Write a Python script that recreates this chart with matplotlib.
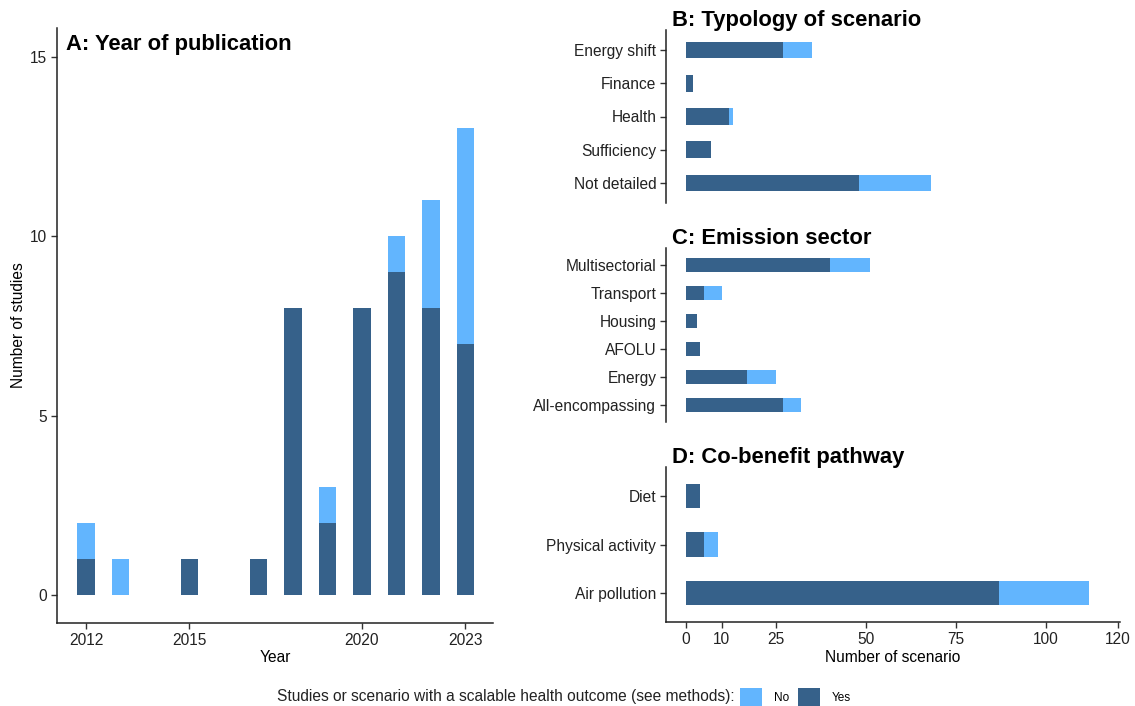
import matplotlib
matplotlib.use("Agg")
import matplotlib.pyplot as plt
from matplotlib.patches import Patch
import numpy as np

plt.rcParams['font.family'] = ['Liberation Sans', 'DejaVu Sans']

# ---- Data ----
years = [2012, 2013, 2015, 2017, 2018, 2019, 2020, 2021, 2022, 2023]
years_yes = [1, 0, 1, 1, 8, 2, 8, 9, 8, 7]
years_no = [1, 1, 0, 0, 0, 1, 0, 1, 3, 6]
year_ticks = [2012, 2015, 2020, 2023]

typology_cats = ["Energy shift", "Finance", "Health", "Sufficiency", "Not detailed"]
typology_yes = [27, 2, 12, 7, 48]
typology_no = [8, 0, 1, 0, 20]

sector_cats = ["Multisectorial", "Transport", "Housing", "AFOLU", "Energy", "All-encompassing"]
sector_yes = [40, 5, 3, 4, 17, 27]
sector_no = [11, 5, 0, 0, 8, 5]

pathway_cats = ["Diet", "Physical activity", "Air pollution"]
pathway_yes = [4, 5, 87]
pathway_no = [0, 4, 25]

scen_ticks = [0, 10, 25, 50, 75, 100, 120]

COL_NO = "#62B5FE"
COL_YES = "#36618A"

TICK_FS = 11.2
LAB_FS = 11.2
TITLE_FS = 15.8

W, H = 1135, 706
fig = plt.figure(figsize=(W / 100, H / 100), dpi=100)

def fbox(l, t, r, b):
    return [l / W, 1 - b / H, (r - l) / W, (b - t) / H]

def style(ax):
    for s in ["top", "right"]:
        ax.spines[s].set_visible(False)
    for s in ["left", "bottom"]:
        ax.spines[s].set_linewidth(1.1)
        ax.spines[s].set_color("#222222")
    ax.tick_params(axis="both", colors="#333333", labelcolor="#222222",
                   length=4, width=1, labelsize=TICK_FS, pad=3)

# ---- Panel A ----
axA = fig.add_axes(fbox(57, 28, 493, 623))
style(axA)
axA.bar(years, years_yes, width=0.5, color=COL_YES, edgecolor="none", zorder=3)
axA.bar(years, years_no, width=0.5, bottom=years_yes, color=COL_NO, edgecolor="none", zorder=3)
axA.set_xlim(2011.16, 2023.8)
axA.set_ylim(-0.78, 15.8)
axA.set_xticks(year_ticks)
axA.set_yticks([0, 5, 10, 15])
axA.set_xlabel("Year", fontsize=LAB_FS, labelpad=2)
axA.set_ylabel("Number of studies", fontsize=LAB_FS, labelpad=3)
axA.text(0.021, 0.99, "A: Year of publication", transform=axA.transAxes,
         fontsize=TITLE_FS, fontweight="bold", va="top", ha="left")

# ---- Panels B, C, D ----
def hpanel(box, cats, yes, no, title, show_x):
    ax = fig.add_axes(fbox(*box))
    style(ax)
    y = np.arange(len(cats))
    ax.barh(y, yes, height=0.5, color=COL_YES, edgecolor="none", zorder=3)
    ax.barh(y, no, height=0.5, left=yes, color=COL_NO, edgecolor="none", zorder=3)
    ax.set_yticks(y)
    ax.set_yticklabels(cats)
    ax.set_ylim(len(cats) - 0.4, -0.6)
    ax.set_xlim(-5.5, 120.5)
    if show_x:
        ax.set_xticks(scen_ticks)
        ax.set_xlabel("Number of scenario", fontsize=LAB_FS, labelpad=2)
    else:
        ax.spines["bottom"].set_visible(False)
        ax.set_xticks([])
    ax.text(0.013, 0.995, title, transform=ax.transAxes, fontsize=TITLE_FS,
            fontweight="bold", va="bottom", ha="left")
    return ax

hpanel((666, 30, 1120, 203), typology_cats, typology_yes, typology_no,
       "B: Typology of scenario", False)
hpanel((666, 248, 1120, 422), sector_cats, sector_yes, sector_no,
       "C: Emission sector", False)
hpanel((666, 467, 1120, 622), pathway_cats, pathway_yes, pathway_no,
       "D: Co-benefit pathway", True)

# ---- Legend ----
handles = [Patch(facecolor=COL_NO, edgecolor="none", label="No"),
           Patch(facecolor=COL_YES, edgecolor="none", label="Yes")]
fig.text(735 / W, 1 - 697 / H, "Studies or scenario with a scalable health outcome (see methods):",
         fontsize=LAB_FS, ha="right", va="center", color="#222222")
fig.legend(handles=handles, loc="center left", bbox_to_anchor=(740 / W, 1 - 697 / H),
           ncol=2, frameon=False, fontsize=8.5, handlelength=1.9, handleheight=1.9,
           handletextpad=1.0, columnspacing=0.7, borderaxespad=0, borderpad=0)

fig.savefig("out.png", dpi=100)
